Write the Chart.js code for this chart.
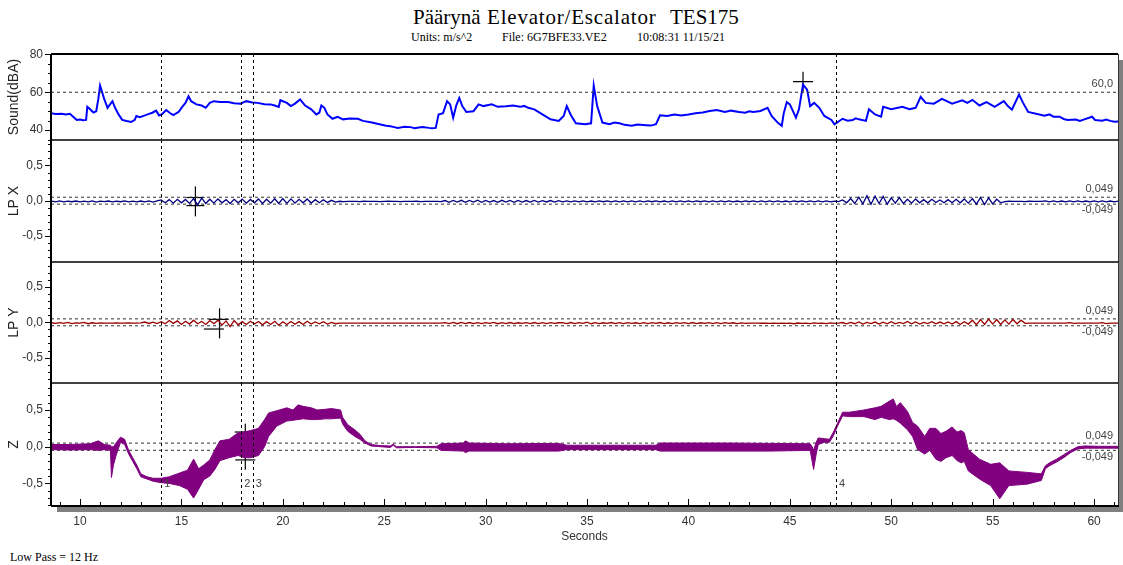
<!DOCTYPE html>
<html>
<head>
<meta charset="utf-8">
<script src="https://cdn.jsdelivr.net/npm/chart.js@4.4.1/dist/chart.umd.min.js"></script>
<style>
  body { margin: 0; width: 1123px; height: 565px; background: #fff; position: relative; overflow: hidden;
         font-family: 'Liberation Serif', 'Times New Roman', serif; }
  .t { position: absolute; white-space: pre; color: #000; line-height: 1; }
  .h1 { font-size: 21px; line-height: 21px; top: 7px; }
  .h2 { font-size: 12px; line-height: 12px; top: 31px; }
  #plot { position: absolute; left: 51px; top: 54px; width: 1067px; height: 452px; background: #fff;
          box-shadow: 6px 6px 0 #808080; }
  canvas { position: absolute; left: 0; }
</style>
</head>
<body>
<div class="t h1" style="left:413px">Päärynä</div>
<div class="t h1" style="left:487px;letter-spacing:0.8px">Elevator/Escalator</div>
<div class="t h1" style="left:670px">TES175</div>
<div class="t h2" style="left:411px">Units: m/s^2</div>
<div class="t h2" style="left:502px">File: 6G7BFE33.VE2</div>
<div class="t h2" style="left:637px">10:08:31 11/15/21</div>
<div class="t" style="left:10px;top:551px;font-size:12px;line-height:12px">Low Pass = 12 Hz</div>
<div id="plot"></div>
<canvas id="c-sound" width="1123" height="106" style="top:44px"></canvas>
<canvas id="c-lpx" width="1123" height="142" style="top:130px"></canvas>
<canvas id="c-lpy" width="1123" height="141" style="top:252px"></canvas>
<canvas id="c-z" width="1123" height="175" style="top:373px"></canvas>
<script>
/* Paarynä elevator run: sound + 3 acceleration channels, shared time axis */
const SANS = "'Liberation Sans', Arial, sans-serif";
const XMIN = 8.57, XMAX = 61.18;
const CURSORS = [14.0, 17.95, 18.52, 47.27];
const CURSOR_NAMES = ['1', '2', '3', '4'];
const LP_REF = 0.049;
const SOUND_REF = 60;

const COL_SOUND = '#0000ff', COL_X = '#000080', COL_Y = '#990000', COL_Z = '#800080';

// Sound (dBA)
const soundT = [
  8.55, 8.8, 9.1, 9.3, 9.5, 9.65, 9.84, 10.0, 10.15, 10.3, 10.36, 10.5, 10.66, 10.8, 10.9, 10.99, 11.05,
  11.2, 11.36, 11.48, 11.6, 11.73, 11.9, 12.08, 12.3, 12.52, 12.7, 12.78, 12.95, 13.2, 13.4, 13.57, 13.75, 13.9,
  14.05, 14.25, 14.45, 14.6, 14.86, 15.04, 15.2, 15.35, 15.48, 15.74, 16.0, 16.2, 16.4, 16.6, 16.9, 17.3, 17.6,
  17.9, 18.2, 18.5, 18.75, 19.1, 19.4, 19.6, 19.8, 19.88, 20.2, 20.4, 20.6, 20.85, 21.1, 21.4, 21.65, 21.8, 21.9,
  22.05, 22.2, 22.45, 22.7, 22.97, 23.3, 23.7, 23.95, 24.4, 24.76, 25.1, 25.3, 25.5, 25.65, 25.8, 26.0, 26.3, 26.5, 26.7, 26.9, 27.2, 27.35, 27.54,
  27.68, 27.9, 28.1, 28.25, 28.4, 28.55, 28.7, 28.85, 29.05, 29.4, 29.65, 29.9, 30.3, 30.6, 31.0, 31.35, 31.7, 31.9, 32.1,
  32.4, 32.8, 33.2, 33.6, 33.85, 34.0, 34.2, 34.45, 34.9, 35.2, 35.33, 35.5, 35.76, 36.1, 36.35, 36.6, 36.85, 37.2, 37.5, 37.9, 38.15, 38.4,
  38.6, 38.95, 39.3, 39.65, 40.0, 40.35, 40.7, 41.05, 41.4, 41.8, 42.1, 42.5, 42.8, 43.0, 43.2, 43.55, 43.9, 44.1, 44.4, 44.6, 44.7, 44.85,
  45.0, 45.3, 45.45, 45.65, 45.85, 46.0, 46.2, 46.45, 46.7, 47.05, 47.2, 47.6, 47.85, 48.1, 48.25, 48.4, 48.75, 48.9, 49.2,
  49.5, 49.6, 50.0, 50.55, 50.9, 51.2, 51.45, 51.7, 52.1, 52.5, 53.0, 53.5, 53.75, 54.0, 54.35, 54.7, 55.1,
  55.55, 55.75, 55.95, 56.3, 56.5, 56.75, 57.3, 57.55, 57.8, 58.0, 58.3, 58.5, 58.7, 59.1, 59.3, 59.45, 59.9, 60.05, 60.4, 60.6, 60.8, 61.0, 61.2];
const soundV = [
  48.9, 48.5, 48.7, 48.3, 48.6, 47.2, 45.4, 45.6, 45.2, 45.4, 52.3, 51.0, 49.3, 50.0, 56.2, 63.5, 61.5,
  56.2, 51.8, 53.6, 55.3, 51.8, 48.3, 45.4, 44.8, 44.3, 45.4, 47.5, 46.9, 47.8, 48.6, 49.2, 50.3, 47.8,
  48.5, 50.6, 48.9, 48.0, 49.6, 52.3, 54.4, 57.9, 55.3, 53.6, 53.0, 51.8, 54.4, 55.3, 54.9, 54.8, 54.2,
  53.9, 55.3, 54.6, 54.4, 53.7, 53.6, 53.0, 52.3, 55.8, 54.4, 52.7, 54.0, 56.2, 53.0, 51.0, 48.3, 49.2, 53.0,
  51.8, 48.3, 46.0, 47.0, 45.7, 46.2, 46.0, 44.9, 44.0, 43.1, 42.3, 42.0, 41.6, 41.2, 41.4, 41.8, 41.6, 41.0, 41.4, 41.7, 41.2, 41.0, 41.2,
  48.3, 49.0, 55.3, 53.6, 46.6, 53.0, 57.0, 52.7, 49.6, 50.0, 53.6, 52.7, 53.6, 52.3, 52.6, 53.0, 52.3, 52.8, 51.8,
  51.0, 48.3, 45.7, 44.9, 47.5, 52.7, 48.0, 43.6, 43.1, 43.6, 63.5, 52.7, 44.0, 43.1, 44.0, 43.6, 42.8, 42.3, 43.0, 42.6, 42.4, 43.1,
  47.8, 47.5, 48.3, 47.8, 48.3, 48.9, 49.3, 50.1, 50.6, 49.6, 50.3, 49.6, 49.2, 50.0, 49.6, 50.1, 51.8, 47.5, 44.0, 42.3, 49.0, 54.8,
  53.6, 46.6, 51.0, 64.0, 61.4, 52.7, 54.4, 51.8, 47.5, 45.4, 43.1, 46.0, 45.0, 45.4, 46.2, 45.7, 44.9, 51.0, 48.3,
  47.1, 52.3, 51.0, 52.3, 51.0, 51.8, 57.6, 54.4, 54.0, 56.5, 54.0, 55.7, 54.4, 56.0, 53.0, 54.8, 52.3,
  55.3, 52.7, 50.8, 58.8, 54.4, 49.6, 48.3, 47.6, 48.3, 47.1, 47.1, 45.9, 45.4, 45.6, 44.8, 45.4, 47.1, 45.4, 45.0, 45.6, 44.9, 44.4, 44.6];

// LP X / LP Y sampled every LP_DT seconds from LP_T0
const LP_T0 = 8.6, LP_DT = 0.2;
const lpX = [
  -.006,-.016,-.004,-.018,-.007,-.015,-.005,-.017,-.006,-.016,-.004,-.019,-.007,-.014,-.005,-.017,-.006,-.015,-.003,-.018,-.006,-.016,-.005,-.017,-.004,-.02,-.002,
  .01,-.03,.015,-.035,.02,-.03,.018,-.038,.03,-.06,.035,-.04,.02,-.035,.025,-.03,.015,-.04,.02,-.03,.022,-.035,.018,-.03,.025,-.04,.02,-.035,.028,-.04,
  .03,-.038,.025,-.035,.02,-.03,.025,-.033,.015,-.03,.012,-.025,.005,-.02,
  -.008,-.012,-.009,-.011,-.01,-.012,-.008,-.011,-.01,-.009,-.012,-.01,-.008,-.011,-.01,-.012,-.009,-.01,-.011,-.008,-.012,-.01,-.009,-.011,-.01,-.012,
  .002,-.022,.004,-.02,.005,-.024,.003,-.02,.006,-.022,.004,-.021,.002,-.023,.005,-.02,.003,-.022,.004,-.019,.002,-.021,.003,-.02,.001,-.018,.002,-.02,.0,
  -.017,-.003,-.016,-.004,-.018,-.002,-.016,-.005,-.017,-.003,-.015,-.004,-.018,-.003,-.016,-.002,-.017,-.004,-.016,-.003,
  -.018,-.004,-.015,-.003,-.017,-.005,-.016,-.002,-.018,-.004,-.016,-.003,-.017,-.004,-.015,-.003,-.018,-.002,-.016,-.004,
  -.017,-.003,-.016,-.005,-.018,-.003,-.015,-.004,-.017,-.002,-.016,-.004,-.018,-.003,-.016,-.005,-.017,-.003,-.015,-.004,
  -.018,-.002,-.016,-.004,-.017,-.003,-.016,-.005,-.014,
  .01,-.03,.03,-.04,.05,-.045,.07,-.05,.065,-.04,.06,-.05,.04,-.035,.045,-.04,
  .02,-.035,.025,-.03,.015,-.03,.02,-.025,.01,-.03,.015,-.028,.02,-.03,.025,-.035,
  .03,-.05,.045,-.055,.04,-.045,.02,-.03,
  -.012,-.008,-.011,-.009,-.01,-.012,-.008,-.01,-.011,-.009,-.004,-.017,-.003,-.016,-.005,-.018,-.004,-.016,-.003,-.017,
  -.005,-.016,-.004,-.018,-.003,-.016,-.005,-.017,-.004];
const lpY = [
  -.006,-.015,-.004,-.016,-.002,-.018,-.008,-.012,.0,-.02,-.006,-.014,-.008,-.012,-.01,-.011,-.009,-.01,-.012,-.008,-.011,-.01,-.009,.004,-.016,.002,-.018,
  .01,-.02,.025,-.015,.02,-.03,.015,-.025,.03,-.02,.012,-.03,.025,-.02,.03,-.04,.02,-.06,.025,-.035,.01,-.03,.015,-.025,.012,-.035,.01,-.03,.015,-.04,
  .008,-.03,.012,-.028,.01,-.03,.015,-.025,.005,-.02,.008,-.025,.0,-.02,
  -.011,-.012,-.012,-.011,-.012,-.012,-.011,-.012,-.012,-.012,-.011,-.012,-.012,-.011,-.012,-.012,-.012,-.011,-.012,-.012,-.011,-.012,-.012,-.011,-.012,-.012,
  -.004,-.018,-.002,-.02,.0,-.018,-.003,-.017,-.005,-.019,-.004,-.016,-.002,-.02,-.005,-.017,-.003,-.018,-.006,-.016,-.004,-.019,-.003,-.017,-.005,-.018,-.004,-.016,-.006,
  -.004,-.018,-.003,-.017,-.005,-.016,.002,-.02,-.004,-.018,-.006,-.016,-.003,-.017,-.005,-.018,-.004,-.016,-.006,-.017,
  -.004,-.018,-.005,-.016,-.003,-.017,-.006,-.018,-.004,-.016,-.005,-.017,-.003,-.018,-.006,-.016,-.004,-.017,-.005,-.018,
  -.004,-.016,-.006,-.017,-.008,-.014,-.01,-.012,-.011,-.013,-.012,-.014,-.011,-.015,-.01,-.016,-.012,-.02,-.01,-.016,
  -.012,-.018,-.008,-.015,-.012,-.017,-.009,-.016,-.011,
  -.003,-.022,.0,-.02,.005,-.025,-.002,-.018,.004,-.024,.002,-.02,.01,-.022,.0,-.018,
  .012,-.02,.005,-.025,.0,-.018,.008,-.022,.004,-.02,.006,-.024,.01,-.03,.008,-.025,
  .03,-.035,.04,-.03,.045,-.025,.04,-.03,
  .035,-.025,.04,-.02,.03,-.015,-.01,-.012,-.011,-.012,-.012,-.011,-.012,-.012,-.011,-.012,-.005,-.016,-.012,-.011,
  -.012,-.012,-.011,-.012,-.004,-.017,-.012,-.011,-.012];

// Z: lower / upper envelope of the noisy trace
const zT = [
  8.6, 9.5, 10.5, 10.9, 11.2, 11.5, 11.55, 11.65, 11.8, 12.0, 12.2, 12.4, 12.6, 12.8, 13.0, 13.3, 13.6,
  14.0, 14.4, 14.9, 15.3, 15.6, 15.85, 16.1, 16.4, 16.65, 16.9, 17.35, 17.8, 18.1, 18.4, 18.8, 19.1, 19.3, 19.7,
  20.2, 20.5, 20.75, 21.0, 21.4, 21.7, 22.1, 22.4, 22.85, 22.95, 23.2, 23.55, 23.8, 24.05, 24.35, 24.8, 25.3, 25.45, 25.6, 26.5, 27.6,
  27.8, 28.9, 29.0, 29.2, 31.0, 33.6, 34.0, 38.4, 38.6, 42.0, 44.0, 46.0, 46.1, 46.17, 46.3, 46.4, 46.7, 46.95,
  47.15, 47.35, 47.6, 47.95, 48.65, 49.2, 49.5, 49.9, 50.1, 50.25, 50.45, 50.8, 51.05, 51.3, 51.65, 51.9, 52.2, 52.45, 52.7, 53.0, 53.25, 53.45, 53.6, 53.8,
  54.35, 54.9, 55.35, 55.8, 56.7, 57.4, 57.6, 57.8, 58.15, 58.5, 58.85, 59.2, 59.55, 60.25, 61.2];
const zLo = [
  -.04, -.045, -.04, -.05, -.04, -.05, -.42, -.25, -.1, .06, .03, -.1, -.2, -.3, -.41, -.44, -.47,
  -.49, -.5, -.53, -.58, -.7, -.58, -.45, -.4, -.31, -.19, -.15, -.12, -.15, -.15, -.12, .0, .14, .28,
  .35, .36, .37, .38, .37, .37, .38, .38, .39, .31, .21, .14, .1, .05, .01, .0, -.01, .02, -.015, -.01, -.015,
  -.05, -.06, -.08, -.06, -.06, -.06, -.04, -.04, -.06, -.06, -.06, -.05, -.2, -.31, -.1, .03, .06, .06,
  .15, .28, .42, .41, .41, .37, .4, .37, .38, .36, .32, .23, .14, -.04, -.1, -.05, -.17, -.2, -.15, -.12, -.19, -.22, -.2, -.33,
  -.44, -.53, -.71, -.53, -.51, -.46, -.3, -.26, -.21, -.15, -.08, -.03, -.02, -.02, -.02];
const zHi = [
  .03, .03, .04, .08, .03, .02, .0, .0, .06, .13, .1, -.05, -.15, -.25, -.37, -.41, -.43,
  -.43, -.41, -.36, -.32, -.17, -.3, -.25, -.18, -.04, .08, .1, .19, .2, .22, .25, .37, .46, .49,
  .53, .5, .57, .55, .53, .5, .51, .52, .5, .4, .3, .23, .17, .08, .03, .015, .01, .035, .0, .0, .005,
  .04, .05, .08, .05, .04, .045, .02, .02, .05, .05, .045, .04, .0, -.05, .06, .12, .11, .1,
  .2, .32, .47, .47, .5, .53, .55, .62, .65, .55, .6, .48, .33, .28, .14, .25, .25, .18, .21, .27, .2, .22, .19, -.04,
  -.17, -.24, -.22, -.33, -.35, -.37, -.26, -.22, -.17, -.11, -.05, .0, .01, .005, .005];

// cursor markers [t, value]
const curSound = [[45.65, 65.6]];
const curXv = [[15.69, -0.01]], curXh = [[15.69, 0.045], [15.69, -0.07]];
const curYv = [[16.88, -0.014]], curYh = [[16.84, 0.042], [16.6, -0.095]];
const curZv = [[18.15, 0.0]], curZh = [[18.12, 0.2], [18.15, -0.18]];

const pts = (ts, vs) => ts.map((t, i) => ({ x: t, y: vs[i] }));
const lpPts = vs => vs.map((v, i) => ({ x: LP_T0 + i * LP_DT, y: v }));
const pairPts = arr => arr.map(([x, y]) => ({ x, y }));

function trace(data, color, width) {
  return { data, borderColor: color, borderWidth: width, pointRadius: 0, tension: 0, fill: false };
}
function refLine(v) {
  return { data: [{ x: XMIN, y: v }, { x: XMAX, y: v }], borderColor: '#333', borderWidth: 1,
    borderDash: [3, 3], pointRadius: 0, fill: false };
}
function marks(arr, style, radius, rotation) {
  return { data: pairPts(arr), showLine: false, pointStyle: style, pointRadius: radius,
    pointRotation: rotation || 0, borderColor: '#000', backgroundColor: '#000', pointBorderWidth: 1.2 };
}
const lpFmt = v => v.toFixed(1).replace('.', ',');

const framePlugin = {
  id: 'frame',
  afterDatasetsDraw(chart, args, o) {
    const { ctx, chartArea: a, scales: { x, y } } = chart;
    ctx.save();
    ctx.strokeStyle = '#000';
    ctx.lineWidth = 1;
    ctx.setLineDash([3, 3]);
    CURSORS.forEach(t => {
      const px = Math.round(x.getPixelForValue(t)) + 0.5;
      ctx.beginPath(); ctx.moveTo(px, a.top); ctx.lineTo(px, a.bottom); ctx.stroke();
    });
    ctx.setLineDash([]);

    ctx.font = '11px ' + SANS;
    ctx.fillStyle = '#444';
    ctx.textAlign = 'right';
    ctx.textBaseline = 'middle';
    o.refs.forEach(r => ctx.fillText(r.text, a.right - 5, y.getPixelForValue(r.v) + r.dy));
    if (o.numbers) {
      ctx.textAlign = 'left';
      CURSORS.forEach((t, i) => ctx.fillText(CURSOR_NAMES[i], x.getPixelForValue(t) + 3, y.getPixelForValue(-0.51)));
    }

    // y ticks, outward
    ctx.lineWidth = 1;
    const k0 = Math.ceil(y.min / o.minor - 1e-6), k1 = Math.floor(y.max / o.minor + 1e-6);
    for (let k = k0; k <= k1; k++) {
      const py = Math.round(y.getPixelForValue(k * o.minor)) + 0.5;
      const len = k % o.every === 0 ? 6 : 3;
      ctx.beginPath(); ctx.moveTo(a.left - len, py); ctx.lineTo(a.left, py); ctx.stroke();
    }
    // x ticks on the bottom panel, inward
    if (o.bottom) {
      for (let k = Math.ceil(XMIN); k <= Math.floor(XMAX); k++) {
        const px = Math.round(x.getPixelForValue(k)) + 0.5;
        const len = k % 5 === 0 ? 7 : 4;
        ctx.beginPath(); ctx.moveTo(px, a.bottom - len); ctx.lineTo(px, a.bottom); ctx.stroke();
      }
    }

    // frame
    ctx.strokeStyle = '#333';
    ctx.lineWidth = 1;
    ctx.beginPath(); ctx.moveTo(a.right + 0.5, a.top); ctx.lineTo(a.right + 0.5, a.bottom); ctx.stroke();
    ctx.strokeStyle = '#000';
    ctx.lineWidth = 2;
    ctx.beginPath(); ctx.moveTo(a.left, a.top); ctx.lineTo(a.left, a.bottom); ctx.stroke();
    if (o.top) { ctx.beginPath(); ctx.moveTo(a.left, a.top); ctx.lineTo(a.right, a.top); ctx.stroke(); }
    ctx.lineWidth = o.bottom ? 2 : 1.5;
    ctx.beginPath(); ctx.moveTo(a.left, a.bottom); ctx.lineTo(a.right + 1, a.bottom); ctx.stroke();
    ctx.restore();
  }
};

function panel(id, cfg) {
  const isBottom = !!cfg.frame.bottom;
  return new Chart(document.getElementById(id), {
    type: 'line',
    data: { datasets: cfg.datasets },
    options: {
      responsive: false, animation: false, devicePixelRatio: 1, events: [],
      layout: { autoPadding: false, padding: { top: 10, bottom: isBottom ? 0 : 10, left: 0, right: 5 } },
      plugins: { legend: { display: false }, tooltip: { enabled: false }, frame: cfg.frame },
      scales: {
        x: {
          type: 'linear', min: XMIN, max: XMAX, display: isBottom,
          grid: { display: false, drawTicks: false }, border: { display: false },
          ticks: { stepSize: 5, includeBounds: false, padding: 8, maxRotation: 0, color: '#333',
            font: { family: SANS, size: 12 } },
          title: { display: isBottom, text: 'Seconds', color: '#333', font: { family: SANS, size: 12 },
            padding: { top: 0, bottom: 4 } },
          afterFit: s => { s.height = isBottom ? 42 : 0; s.paddingLeft = 0; s.paddingRight = 0; }
        },
        y: {
          min: cfg.min, max: cfg.max,
          grid: { display: false, drawTicks: false }, border: { display: false },
          ticks: { stepSize: cfg.step, includeBounds: false, padding: 8, color: '#333',
            font: { family: SANS, size: 12 }, callback: cfg.fmt },
          title: { display: true, text: cfg.title, color: '#222', font: { family: SANS, size: 14 },
            padding: { top: 6, bottom: 0 } },
          afterFit: s => { s.width = 51; s.paddingTop = 0; s.paddingBottom = 0; }
        }
      }
    },
    plugins: [framePlugin]
  });
}

panel('c-sound', {
  title: 'Sound(dBA)', min: 34.8, max: 80.2, step: 20, fmt: v => String(v),
  frame: { top: true, minor: 5, every: 4, refs: [{ v: SOUND_REF, text: '60,0', dy: -8 }] },
  datasets: [
    refLine(SOUND_REF),
    trace(pts(soundT, soundV), COL_SOUND, 2),
    marks(curSound, 'cross', 10)
  ]
});

const lpRefs = [{ v: LP_REF, text: '0,049', dy: -8 }, { v: -LP_REF, text: '-0,049', dy: 6 }];

panel('c-lpx', {
  title: 'LP X', min: -0.871, max: 0.862, step: 0.5, fmt: lpFmt,
  frame: { minor: 0.1, every: 5, refs: lpRefs },
  datasets: [
    trace(lpPts(lpX), COL_X, 1.3),
    refLine(LP_REF), refLine(-LP_REF),
    marks(curXv, 'line', 15, 90), marks(curXh, 'line', 9)
  ]
});

panel('c-lpy', {
  title: 'LP Y', min: -0.86, max: 0.855, step: 0.5, fmt: lpFmt,
  frame: { minor: 0.1, every: 5, refs: lpRefs },
  datasets: [
    trace(lpPts(lpY), COL_Y, 1.3),
    refLine(LP_REF), refLine(-LP_REF),
    marks(curYv, 'line', 15, 90), marks(curYh, 'line', 10)
  ]
});

panel('c-z', {
  title: 'Z', min: -0.808, max: 0.868, step: 0.5, fmt: lpFmt,
  frame: { bottom: true, numbers: true, minor: 0.1, every: 5,
    refs: [{ v: LP_REF, text: '0,049', dy: -7 }, { v: -LP_REF, text: '-0,049', dy: 7 }] },
  datasets: [
    trace(pts(zT, zHi), COL_Z, 1),
    Object.assign(trace(pts(zT, zLo), COL_Z, 1), { fill: '-1', backgroundColor: COL_Z }),
    refLine(LP_REF), refLine(-LP_REF),
    marks(curZv, 'line', 23, 90), marks(curZh, 'line', 10)
  ]
});
</script>
</body>
</html>
